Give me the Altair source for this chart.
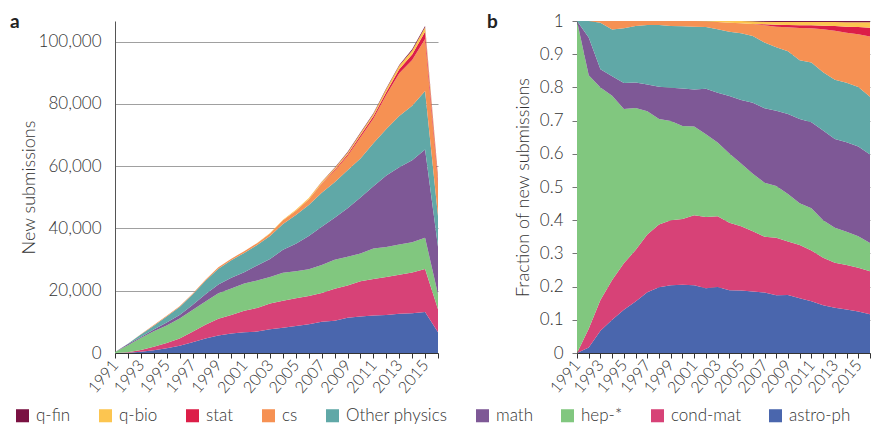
import altair as alt
import pandas as pd

years = list(range(1991, 2017))

categories = ["q-fin", "q-bio", "stat", "cs", "Other physics", "math", "hep-*", "cond-mat", "astro-ph"]
colors = ["#7a1142", "#fcc550", "#dc1e48", "#f69153", "#60a8a7", "#7e5896", "#81c77f", "#d74277", "#4a66ad"]

astro_ph = [0, 50, 400, 900, 1560, 2330, 3480, 4650, 5610, 6240, 6670, 6880, 7660, 8090, 8650, 9210,
            10010, 10350, 11290, 11680, 12010, 12240, 12580, 12770, 13130, 6670]
cond_mat = [0, 170, 560, 1080, 1680, 2330, 3310, 4440, 5390, 6000, 6900, 7590, 8200, 8690, 8920, 9060,
            9240, 10290, 10390, 11330, 11780, 12160, 12580, 13070, 13860, 7350]
hep = [300, 2290, 3840, 5000, 5580, 6420, 7050, 7470, 8220, 8480, 8730, 8790, 8550, 8950, 8690, 8620,
       8970, 9280, 9220, 8920, 9780, 9610, 9710, 9750, 9980, 4850]
math = [0, 340, 330, 530, 940, 1160, 1540, 2280, 2750, 3420, 3660, 4840, 5780, 7400, 8790, 10660,
        12320, 13510, 15550, 17980, 19940, 22950, 24790, 26330, 28350, 15220]
other_physics = [0, 150, 840, 1270, 1980, 2550, 3400, 4370, 5120, 5670, 6180, 6570, 7350, 8300, 9250, 10010,
                 10890, 11370, 12190, 12530, 13860, 14960, 16470, 17450, 18800, 9920]
cs = [0, 0, 30, 230, 260, 230, 230, 280, 410, 490, 560, 600, 850, 1160, 1380, 1790,
      2860, 3690, 4640, 6870, 7930, 10970, 13690, 14720, 16700, 10320]
stat = [0, 0, 0, 0, 0, 0, 0, 0, 0, 0, 0, 0, 0, 0, 0, 0,
        170, 360, 450, 570, 690, 940, 1300, 1760, 2310, 1540]
q_bio = [0, 0, 0, 0, 0, 0, 0, 0, 0, 0, 0, 35, 120, 210, 320, 400,
         440, 480, 580, 710, 770, 940, 1110, 1270, 1470, 910]
q_fin = [0, 0, 0, 0, 0, 0, 0, 0, 0, 0, 0, 0, 0, 0, 0, 50,
         110, 180, 190, 210, 230, 260, 280, 390, 420, 230]

left_ticks = [0, 20000, 40000, 60000, 80000, 100000]
right_ticks = [0, 0.1, 0.2, 0.3, 0.4, 0.5, 0.6, 0.7, 0.8, 0.9, 1]

series = {
    "astro-ph": astro_ph, "cond-mat": cond_mat, "hep-*": hep, "math": math,
    "Other physics": other_physics, "cs": cs, "stat": stat, "q-bio": q_bio, "q-fin": q_fin,
}
stack_order = ["astro-ph", "cond-mat", "hep-*", "math", "Other physics", "cs", "stat", "q-bio", "q-fin"]

rows = []
for cat in stack_order:
    for yr, v in zip(years, series[cat]):
        rows.append({"year": yr, "category": cat, "count": v, "rank": stack_order.index(cat)})
df = pd.DataFrame(rows)

FONT = "Lato"
TXT = "#333333"

x_axis = alt.Axis(
    values=years, labelExpr="datum.value % 2 == 1 ? format(datum.value, 'd') : ''",
    labelAngle=-50, labelAlign="right", labelBaseline="middle", labelPadding=4,
    tickSize=5, tickColor="#333", domainColor="#333", title=None, grid=False,
    labelFontSize=16, labelOverlap=False,
)

color = alt.Color(
    "category:N", scale=alt.Scale(domain=categories, range=colors),
    legend=alt.Legend(
        orient="none", direction="horizontal", legendX=-101, legendY=386, title=None, padding=0,
        symbolType="square", symbolSize=170, symbolStrokeWidth=0, symbolOpacity=1,
        labelFontSize=17, labelFontWeight=300, labelFont=FONT, labelColor=TXT,
        columnPadding=26, labelOffset=5,
    ),
)

left_area = alt.Chart(df).mark_area(opacity=1).encode(
    x=alt.X("year:Q", scale=alt.Scale(domain=[1991, 2016], nice=False, zero=False), axis=x_axis),
    y=alt.Y("count:Q", stack="zero", scale=alt.Scale(domain=[0, 106600], nice=False),
            axis=alt.Axis(values=left_ticks, labelExpr="format(datum.value, ',')",
                          title="New submissions", ticks=False, labelPadding=14,
                          grid=True, gridColor="#a0a0a0", gridWidth=1,
                          domainColor="#555", labelFontSize=17, titleFontSize=18, titlePadding=0)),
    color=color,
    order=alt.Order("rank:Q", sort="ascending"),
)
label_a = alt.Chart(pd.DataFrame({"t": ["a"]})).mark_text(
    font=FONT, fontSize=19, fontWeight="bold", align="left", baseline="alphabetic", color="#222"
).encode(text="t:N", x=alt.value(-105), y=alt.value(7))

left = alt.layer(left_area, label_a).properties(width=323, height=332)

right_area = alt.Chart(df).mark_area(opacity=1).encode(
    x=alt.X("year:Q", scale=alt.Scale(domain=[1991, 2016], nice=False, zero=False), axis=x_axis),
    y=alt.Y("count:Q", stack="normalize", scale=alt.Scale(domain=[0, 1], nice=False),
            axis=alt.Axis(values=right_ticks, labelExpr="format(datum.value, '~g')",
                          title="Fraction of new submissions", ticks=True, tickSize=5, tickColor="#777",
                          labelPadding=9, grid=True, gridColor="#a0a0a0", domainColor="#333",
                          labelFontSize=17, titleFontSize=18, titlePadding=7)),
    color=color,
    order=alt.Order("rank:Q", sort="ascending"),
)
label_b = alt.Chart(pd.DataFrame({"t": ["b"]})).mark_text(
    font=FONT, fontSize=19, fontWeight="bold", align="left", baseline="alphabetic", color="#222"
).encode(text="t:N", x=alt.value(-90), y=alt.value(7))

right = alt.layer(right_area, label_b).properties(width=293, height=332)

chart = alt.hconcat(left, right, spacing=42).properties(
    padding={"left": 2, "top": 4, "right": 0, "bottom": 0}
).configure_axis(
    labelFont=FONT, titleFont=FONT, labelColor=TXT, titleColor=TXT,
    titleFontWeight=300, labelFontWeight=300,
).configure_view(stroke=None)

chart.save("out.html", embed_options={"renderer": "svg", "actions": False})
